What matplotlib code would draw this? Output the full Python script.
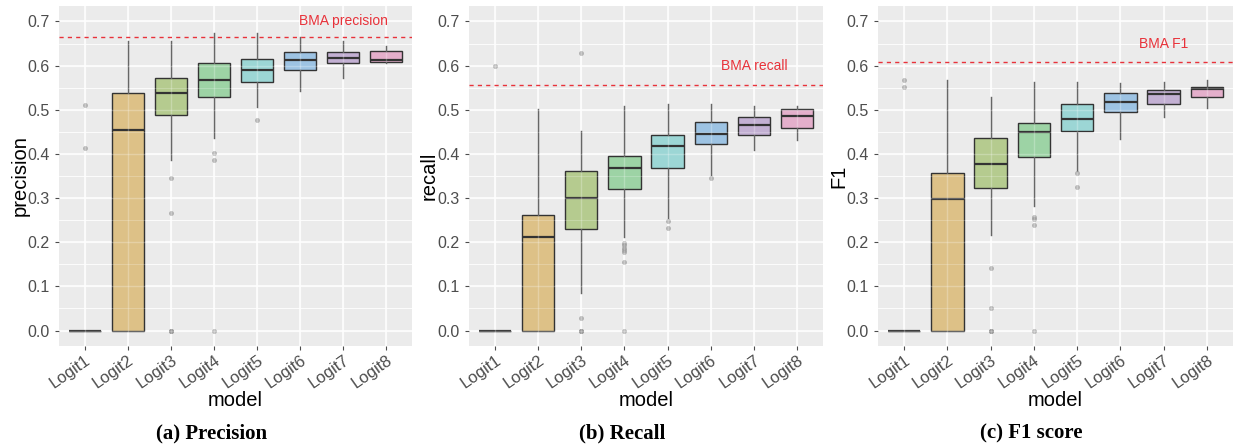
import matplotlib
matplotlib.use("Agg")
import matplotlib.pyplot as plt
from matplotlib.ticker import MultipleLocator

plt.rcParams["font.family"] = ["Liberation Sans", "DejaVu Sans"]

models = ["Logit1", "Logit2", "Logit3", "Logit4", "Logit5", "Logit6", "Logit7", "Logit8"]
colors = ["#C9C9C9", "#DDC187", "#B5CB8F", "#9DD3A5", "#9CD6D5", "#9DC3E3", "#C3B0D3", "#E4AFCB"]

# precision
prec_q1 = [0.0, 0.0, 0.489, 0.530, 0.563, 0.589, 0.605, 0.608]
prec_med = [0.0, 0.454, 0.537, 0.568, 0.591, 0.612, 0.617, 0.612]
prec_q3 = [0.0, 0.538, 0.571, 0.607, 0.616, 0.630, 0.630, 0.633]
prec_lo = [0.0, 0.0, 0.387, 0.436, 0.506, 0.542, 0.571, 0.605]
prec_hi = [0.0, 0.655, 0.655, 0.673, 0.673, 0.664, 0.655, 0.644]
prec_out = [[0.51, 0.413], [], [0.345, 0.267, 0.0, 0.0, 0.0], [0.401, 0.387, 0.0], [0.477], [], [], []]
prec_bma = 0.665

# recall
rec_q1 = [0.0, 0.0, 0.2295, 0.320, 0.367, 0.423, 0.443, 0.458]
rec_med = [0.0, 0.212, 0.300, 0.367, 0.417, 0.445, 0.466, 0.487]
rec_q3 = [0.0, 0.2606, 0.361, 0.395, 0.443, 0.472, 0.483, 0.5015]
rec_lo = [0.0, 0.0, 0.085, 0.211, 0.256, 0.353, 0.408, 0.431]
rec_hi = [0.0, 0.5008, 0.451, 0.508, 0.514, 0.514, 0.508, 0.508]
rec_out = [[0.600], [], [0.628, 0.029, 0.0, 0.0, 0.0], [0.198, 0.193, 0.188, 0.182, 0.177, 0.156, 0.0],
           [0.248, 0.233], [0.346], [], []]
rec_bma = 0.557

# F1
f1_q1 = [0.0, 0.0, 0.323, 0.393, 0.452, 0.494, 0.514, 0.529]
f1_med = [0.0, 0.298, 0.3765, 0.449, 0.4795, 0.517, 0.535, 0.548]
f1_q3 = [0.0, 0.356, 0.435, 0.470, 0.513, 0.539, 0.545, 0.552]
f1_lo = [0.0, 0.0, 0.217, 0.281, 0.362, 0.433, 0.4826, 0.503]
f1_hi = [0.0, 0.567, 0.528, 0.562, 0.562, 0.560, 0.562, 0.568]
f1_out = [[0.568, 0.551], [], [0.142, 0.0515, 0.0, 0.0, 0.0], [0.2576, 0.252, 0.239, 0.0],
          [0.356, 0.324], [], [], []]
f1_bma = 0.6076

panels = [
    ("precision", "BMA precision", 0.700, prec_q1, prec_med, prec_q3, prec_lo, prec_hi, prec_out, prec_bma, "(a) Precision"),
    ("recall", "BMA recall", 0.600, rec_q1, rec_med, rec_q3, rec_lo, rec_hi, rec_out, rec_bma, "(b) Recall"),
    ("F1", "BMA F1", 0.650, f1_q1, f1_med, f1_q3, f1_lo, f1_hi, f1_out, f1_bma, "(c) F1 score"),
]

W, H = 1235, 446
fig = plt.figure(figsize=(W / 100, H / 100), dpi=100)
lefts = [59, 469, 878]
widths = [353, 354, 355]
ylab_x = [20, 429, 839]
ax_top, ax_bot = 6, 346
cap_x = [212, 622, 1031]
yticks = [0.0, 0.1, 0.2, 0.3, 0.4, 0.5, 0.6, 0.7]

for i, (ylab, bma_lab, bma_txt_y, q1, med, q3, lo, hi, out, bma, cap) in enumerate(panels):
    ax = fig.add_axes([lefts[i] / W, (H - ax_bot) / H, widths[i] / W, (ax_bot - ax_top) / H])
    ax.set_facecolor("#EBEBEB")
    for s in ax.spines.values():
        s.set_visible(False)

    stats = []
    for k in range(8):
        stats.append(dict(med=med[k], q1=q1[k], q3=q3[k], whislo=lo[k], whishi=hi[k], fliers=out[k]))
    bp = ax.bxp(stats, positions=list(range(1, 9)), widths=0.75, patch_artist=True, showcaps=False,
                manage_ticks=False,
                boxprops=dict(edgecolor="#333333", lw=1.0),
                medianprops=dict(color="#333333", lw=1.6),
                whiskerprops=dict(color="#333333", lw=1.0),
                flierprops=dict(marker="o", markersize=3.6, markerfacecolor="#8E8E8E",
                                markeredgecolor="none", alpha=0.6),
                zorder=2)
    for patch, c in zip(bp["boxes"], colors):
        patch.set_facecolor(c)
        patch.set_zorder(2)

    ax.set_xlim(0.4, 8.6)
    ax.set_ylim(-0.035, 0.735)
    ax.set_yticks(yticks)
    ax.yaxis.set_minor_locator(MultipleLocator(0.05))
    ax.set_xticks(list(range(1, 9)))
    ax.grid(True, which="major", color="white", lw=1.1, zorder=0)
    ax.grid(True, which="minor", axis="y", color="white", lw=0.55, zorder=0)
    ax.set_axisbelow(True)

    # gridlines faintly visible through the semi-transparent fills
    for yv in [x * 0.05 for x in range(0, 15)]:
        ax.axhline(yv, color="white", lw=0.6 if round(yv * 20) % 2 else 1.0, alpha=0.25, zorder=2.5)
    for xv in range(1, 9):
        ax.axvline(xv, color="white", lw=1.0, alpha=0.25, zorder=2.5)

    ax.axhline(bma, color="#E8323A", lw=1.0, ls=(0, (3, 3)), zorder=3)
    ax.text(7, bma_txt_y, bma_lab, color="#E8323A", fontsize=10, ha="center", va="center")

    ax.set_xticklabels(models, rotation=35, ha="right", rotation_mode="anchor")
    ax.set_yticklabels([f"{v:.1f}" for v in yticks])
    ax.tick_params(axis="both", colors="#4D4D4D", length=3, width=0.8)
    ax.tick_params(axis="y", labelsize=11.5)
    ax.tick_params(axis="x", labelsize=12, pad=2)
    ax.tick_params(axis="y", which="minor", length=0)
    ax.set_ylabel(ylab, fontsize=14.5, color="black")
    ax.set_xlabel("model", fontsize=14.5, color="black")
    ax.xaxis.set_label_coords(0.5, (ax_bot - 400) / (ax_bot - ax_top))
    ax.xaxis.label.set_va("center")
    ax.yaxis.set_label_coords((ylab_x[i] - lefts[i]) / widths[i], 0.5)
    ax.yaxis.label.set_va("center")

    fig.text(cap_x[i] / W, 1 - 433 / H, cap, ha="center", va="center", fontsize=15,
             fontweight="bold", family="Liberation Serif")

fig.savefig("out.png", dpi=100)
